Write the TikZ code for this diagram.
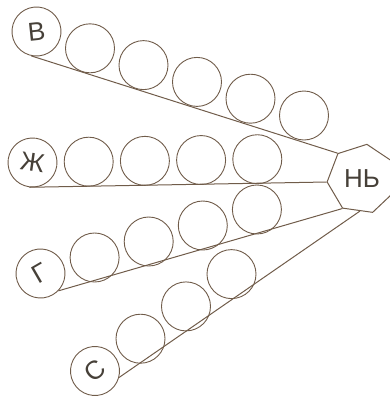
\documentclass[tikz,border=0pt]{standalone}
\usepackage{fontspec}
\setmainfont{Liberation Sans}
\usetikzlibrary{shapes.geometric,calc}
\definecolor{ink}{RGB}{112,92,74}
\definecolor{txt}{RGB}{70,64,56}
\begin{document}
\begin{tikzpicture}[x=1pt,y=-1pt,
  ball/.style={circle,draw=ink,line width=0.9pt,minimum size=49pt,inner sep=0pt,
    font=\fontsize{26}{26}\selectfont,text=txt},
  rail/.style={draw=ink,line width=1pt},
  hub/.style={regular polygon,regular polygon sides=7,shape border rotate=-8,
    minimum size=70pt,inner sep=0pt,draw=ink,line width=1pt,
    font=\fontsize{26}{26}\selectfont,text=txt}]
\useasboundingbox (0,0) rectangle (390,397);
\node[hub] (h) at (362,179) {НЬ};
% row B
\node[ball,rotate=6] (b1) at (36.5,31.5) {В};
\foreach \i in {2,...,6}
  \node[ball] (b\i) at ({36.5+53.5*(\i-1)},{31.5+16.8*(\i-1)}) {};
% row Zh
\node[ball,rotate=-8] (z1) at (32.5,162.5) {Ж};
\foreach \i in {2,...,5}
  \node[ball] (z\i) at ({32.5+56.2*(\i-1)},{162.5-0.82*(\i-1)}) {};
% row G
\node[ball,rotate=30] (g1) at (40.5,273.5) {Г};
\foreach \i in {2,...,5}
  \node[ball] (g\i) at ({40.5+54.1*(\i-1)},{273.5-16*(\i-1)}) {};
% row S
\node[ball,rotate=40] (c1) at (95,371) {С};
\foreach \i in {2,...,4}
  \node[ball] (c\i) at ({95+45.5*(\i-1)},{371-32.3*(\i-1)}) {};
\coordinate (cE) at ($(h.corner 4)!0.58!(h.corner 5)$);
\draw[rail] (b1.252.6) -- (h.corner 2);
\draw[rail] (z1.271) -- (h.corner 3);
\draw[rail] (g1.286.8) -- (h.corner 4);
\draw[rail] (c1.305.7) -- (cE);
\end{tikzpicture}
\end{document}
